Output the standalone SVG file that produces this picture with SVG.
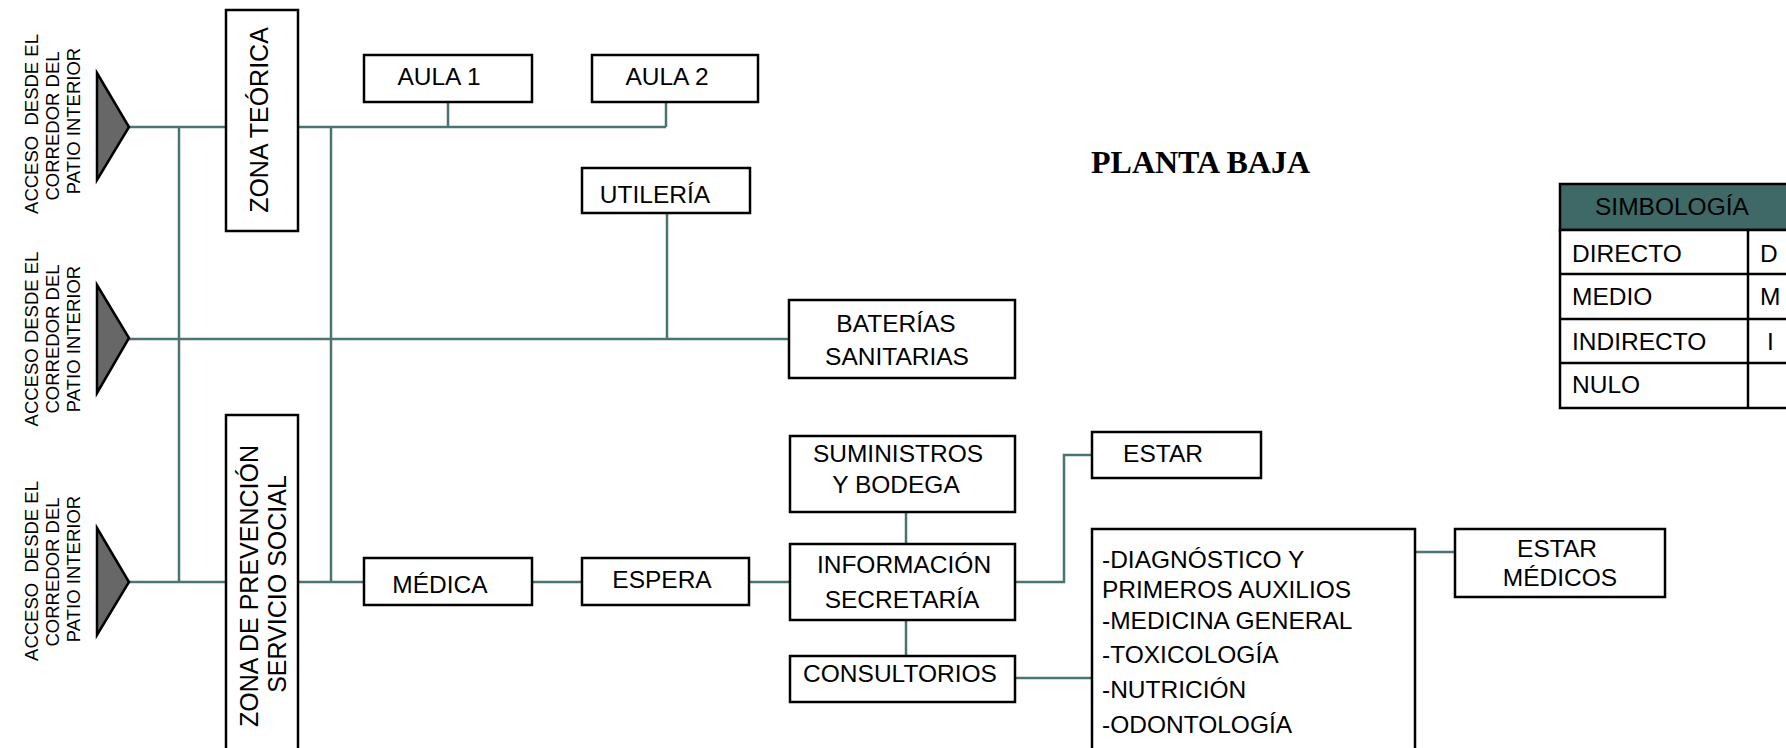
<svg xmlns="http://www.w3.org/2000/svg" width="1786" height="748" viewBox="0 0 1786 748">
<style>
.box{fill:#fff;stroke:#000;stroke-width:2.5}
.con{fill:none;stroke:#4a7471;stroke-width:2.5}
.tri{fill:#676767;stroke:#000;stroke-width:2.5;stroke-linejoin:miter}
text{font-family:"Liberation Sans",Arial,sans-serif;font-size:24.5px;fill:#000}
.m{text-anchor:middle}
.acc{font-size:18.5px;text-anchor:middle}
.title{font-family:"Liberation Serif","Times New Roman",serif;font-weight:bold;font-size:32px}
</style>
<rect width="1786" height="748" fill="#fff"/>
<g id="connectors">
<path class="con" d="M129,127H226M298,127H666M448,102V127M666,102V127"/>
<path class="con" d="M179,127V582M331,127V582"/>
<path class="con" d="M129,339H789M667,213V339"/>
<path class="con" d="M129,582H226M298,582H364M532,582H582M749,582H790"/>
<path class="con" d="M906,512V544M906,620V656"/>
<path class="con" d="M1015,582H1064V455H1092"/>
<path class="con" d="M1015,678H1092M1415,552H1455"/>
</g>
<g id="acceso1">
<polygon class="tri" points="97,73 129,127 97,180"/>
<text class="acc" transform="translate(38,124) rotate(-90)" xml:space="preserve">ACCESO  DESDE EL</text>
<text class="acc" transform="translate(59,126) rotate(-90)">CORREDOR DEL</text>
<text class="acc" transform="translate(80,121) rotate(-90)">PATIO INTERIOR</text>
</g>
<g id="acceso2">
<polygon class="tri" points="97,285 129,338 97,393"/>
<text class="acc" transform="translate(38,339) rotate(-90)" xml:space="preserve">ACCESO DESDE EL</text>
<text class="acc" transform="translate(59,339) rotate(-90)">CORREDOR DEL</text>
<text class="acc" transform="translate(80,339) rotate(-90)">PATIO INTERIOR</text>
</g>
<g id="acceso3">
<polygon class="tri" points="97,528 129,582 97,635"/>
<text class="acc" transform="translate(38,571) rotate(-90)" xml:space="preserve">ACCESO  DESDE EL</text>
<text class="acc" transform="translate(59,572) rotate(-90)">CORREDOR DEL</text>
<text class="acc" transform="translate(80,569) rotate(-90)">PATIO INTERIOR</text>
</g>
<g id="zona-teorica">
<rect class="box" x="226" y="10" width="72" height="221"/>
<text class="m" style="font-size:25px" transform="translate(268,120) rotate(-90)">ZONA TEÓRICA</text>
</g>
<g id="zona-prevencion">
<rect class="box" x="226" y="415" width="72" height="345"/>
<text class="m" style="font-size:25px" transform="translate(258,586) rotate(-90)">ZONA DE PREVENCIÓN</text>
<text class="m" style="font-size:25px" transform="translate(286,584) rotate(-90)">SERVICIO SOCIAL</text>
</g>
<g id="aula1">
<rect class="box" x="364" y="55" width="168" height="47"/>
<text class="m" x="439" y="85">AULA 1</text>
</g>
<g id="aula2">
<rect class="box" x="592" y="55" width="166" height="47"/>
<text class="m" x="667" y="85">AULA 2</text>
</g>
<g id="utileria">
<rect class="box" x="582" y="168" width="168" height="45"/>
<text class="m" x="655" y="203">UTILERÍA</text>
</g>
<g id="baterias">
<rect class="box" x="789" y="300" width="226" height="78"/>
<text class="m" x="896" y="332">BATERÍAS</text>
<text class="m" x="897" y="365">SANITARIAS</text>
</g>
<g id="medica">
<rect class="box" x="364" y="558" width="168" height="47"/>
<text class="m" x="440" y="593">MÉDICA</text>
</g>
<g id="espera">
<rect class="box" x="582" y="558" width="167" height="47"/>
<text class="m" x="662" y="588">ESPERA</text>
</g>
<g id="suministros">
<rect class="box" x="790" y="436" width="225" height="76"/>
<text class="m" x="898" y="462">SUMINISTROS</text>
<text class="m" x="896" y="493">Y BODEGA</text>
</g>
<g id="informacion">
<rect class="box" x="790" y="544" width="225" height="76"/>
<text class="m" x="904" y="573">INFORMACIÓN</text>
<text class="m" x="902" y="608">SECRETARÍA</text>
</g>
<g id="consultorios">
<rect class="box" x="790" y="656" width="225" height="46"/>
<text class="m" x="900" y="682">CONSULTORIOS</text>
</g>
<g id="estar">
<rect class="box" x="1092" y="432" width="169" height="46"/>
<text class="m" x="1163" y="462">ESTAR</text>
</g>
<g id="especialidades">
<rect class="box" x="1092" y="529" width="323" height="240"/>
<text x="1102" y="568">-DIAGNÓSTICO Y</text>
<text x="1102" y="598">PRIMEROS AUXILIOS</text>
<text x="1102" y="629">-MEDICINA GENERAL</text>
<text x="1102" y="663">-TOXICOLOGÍA</text>
<text x="1102" y="698">-NUTRICIÓN</text>
<text x="1102" y="733">-ODONTOLOGÍA</text>
</g>
<g id="estar-medicos">
<rect class="box" x="1455" y="529" width="210" height="68"/>
<text class="m" x="1557" y="557">ESTAR</text>
<text class="m" x="1560" y="586">MÉDICOS</text>
</g>
<g id="titulo">
<text class="title" x="1091" y="173">PLANTA BAJA</text>
</g>
<g id="simbologia">
<rect x="1560" y="184" width="240" height="46" fill="#3e6966" stroke="#000" stroke-width="2.5"/>
<rect class="box" x="1560" y="230" width="240" height="178"/>
<path fill="none" stroke="#000" stroke-width="2.5" d="M1560,274H1800M1560,319H1800M1560,363H1800M1748,230V408"/>
<text x="1595" y="215">SIMBOLOGÍA</text>
<text x="1572" y="262">DIRECTO</text>
<text x="1572" y="305">MEDIO</text>
<text x="1572" y="350">INDIRECTO</text>
<text x="1572" y="393">NULO</text>
<text x="1760" y="262">D</text>
<text x="1760" y="305">M</text>
<text x="1767" y="350">I</text>
</g>
</svg>
